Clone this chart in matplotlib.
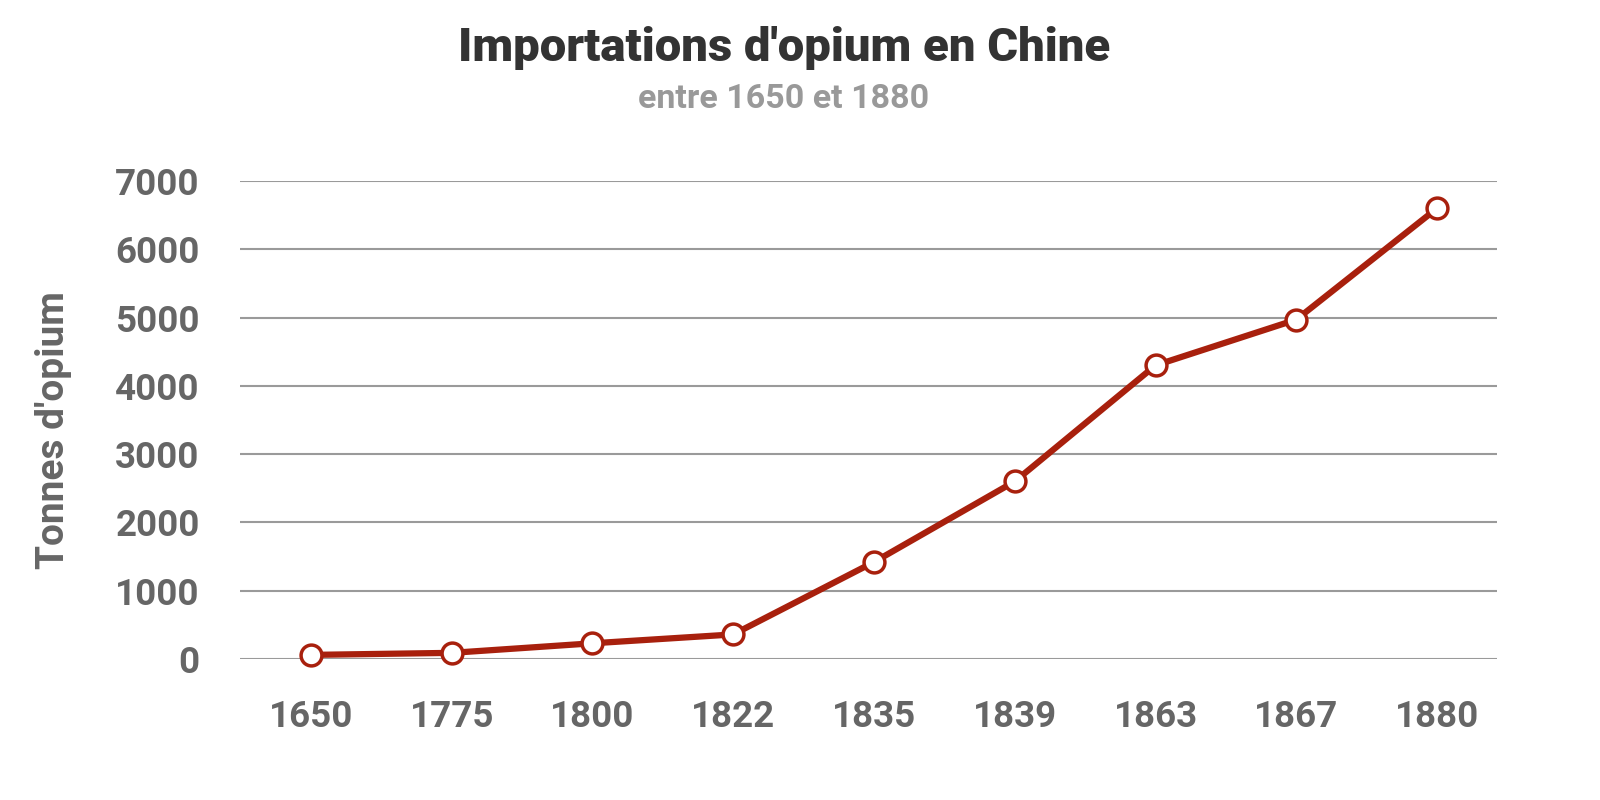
import matplotlib.pyplot as plt

# data
years = ['1650', '1775', '1800', '1822', '1835', '1839', '1863', '1867', '1880']
tonnes = [60, 90, 230, 360, 1420, 2600, 4300, 4970, 6600]
yticks = [0, 1000, 2000, 3000, 4000, 5000, 6000, 7000]

red = '#a8200d'
grey_txt = '#666666'

plt.rcParams['font.family'] = ['Roboto', 'DejaVu Sans']

fig = plt.figure(figsize=(16, 8), dpi=100)
ax = fig.add_axes([240 / 1600, 141 / 800, 1257 / 1600, 478 / 800])

x = list(range(len(years)))
ax.plot(x, tonnes, '-o', color=red, linewidth=4.5, markersize=15,
        markerfacecolor='white', markeredgecolor=red, markeredgewidth=2.5,
        clip_on=False, zorder=3)

ax.set_xlim(-0.504, 8.426)
ax.set_ylim(0, 7000)
ax.set_xticks(x)
ax.set_xticklabels(years)
ax.set_yticks(yticks)
ax.set_yticklabels([str(v) for v in yticks])

ax.tick_params(axis='both', length=0, labelsize=26.5, labelcolor=grey_txt)
ax.tick_params(axis='x', pad=29)
ax.tick_params(axis='y', pad=29)
for lab in ax.get_xticklabels() + ax.get_yticklabels():
    lab.set_fontweight('bold')

ax.yaxis.grid(True, color='#9a9a9a', linewidth=1.5)
ax.set_axisbelow(True)
for s in ax.spines.values():
    s.set_visible(False)

ax.set_ylabel("Tonnes d'opium", fontsize=28, fontweight='bold', color=grey_txt)
ax.yaxis.set_label_coords(-0.134, 0.479)

fig.text(0.49, 1 - 48 / 800, "Importations d'opium en Chine", ha='center', va='center',
         fontsize=34, fontweight='black', color='#333333')
fig.text(0.49, 1 - 99 / 800, 'entre 1650 et 1880', ha='center', va='center',
         fontsize=24.5, fontweight='semibold', color='#999999')

fig.savefig('out.png', dpi=100)
